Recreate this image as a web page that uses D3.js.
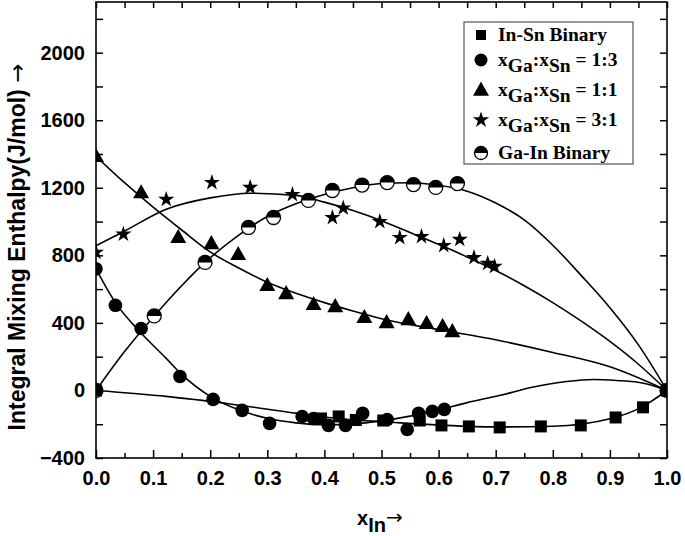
<!DOCTYPE html>
<html>
<head>
<meta charset="utf-8">
<script src="https://cdn.jsdelivr.net/npm/d3@7"></script>
<style>
body { margin: 0; background: #fff; }
svg { display: block; }
.tick text { font-family: "Liberation Sans", Arial, sans-serif; font-weight: bold; font-size: 20px; fill: #000; }
</style>
</head>
<body>
<svg width="685" height="536"></svg>
<script>
// measured points
var inSnX = [0, 0.394, 0.425, 0.455, 0.503, 0.567, 0.605, 0.653, 0.707, 0.779, 0.849, 0.910, 0.958, 1.0];
var inSnY = [0, -166, -154, -175, -178, -178, -207, -213, -219, -213, -207, -160, -100, 0];

var r13X = [0, 0.034, 0.079, 0.147, 0.205, 0.256, 0.304, 0.361, 0.381, 0.407, 0.437, 0.467, 0.51, 0.545, 0.565, 0.589, 0.61, 1.0];
var r13Y = [720, 504, 367, 83, -53, -118, -195, -154, -166, -207, -207, -136, -172, -231, -136, -124, -112, 0];

var r11X = [0, 0.079, 0.144, 0.202, 0.249, 0.30, 0.333, 0.381, 0.419, 0.47, 0.509, 0.547, 0.579, 0.607, 0.624, 1.0];
var r11Y = [1386, 1171, 906, 870, 805, 622, 574, 509, 497, 432, 402, 420, 397, 379, 349, 0];

var r31X = [0, 0.048, 0.123, 0.203, 0.27, 0.344, 0.414, 0.433, 0.497, 0.532, 0.570, 0.609, 0.637, 0.662, 0.686, 0.698, 1.0];
var r31Y = [818, 925, 1131, 1231, 1202, 1160, 1024, 1080, 1000, 905, 911, 858, 894, 787, 752, 734, 0];

var gaInX = [0, 0.102, 0.191, 0.267, 0.311, 0.372, 0.414, 0.466, 0.51, 0.556, 0.595, 0.633, 1.0];
var gaInY = [0, 441, 758, 965, 1024, 1125, 1184, 1216, 1231, 1219, 1202, 1225, 0];

// fitted curves
var fitInSnX = [0, 0.123, 0.235, 0.354, 0.45, 0.5, 0.6, 0.7, 0.8, 0.9, 0.955, 1.0];
var fitInSnY = [0, -35, -80, -136, -175, -185, -205, -216, -212, -168, -100, 0];

var fit13X = [0, 0.034, 0.079, 0.123, 0.15, 0.2, 0.25, 0.3, 0.35, 0.4, 0.45, 0.5, 0.55, 0.6, 0.65, 0.708, 0.766, 0.824, 0.871, 0.912, 0.959, 1.0];
var fit13Y = [720, 520, 340, 190, 95, -35, -115, -165, -192, -203, -198, -180, -152, -115, -72, -29, 20, 53, 65, 59, 43, 0];

var fit11X = [0, 0.05, 0.1, 0.15, 0.2, 0.25, 0.3, 0.35, 0.4, 0.45, 0.5, 0.6, 0.7, 0.8, 0.9, 1.0];
var fit11Y = [1386, 1230, 1085, 950, 820, 725, 640, 575, 520, 470, 425, 360, 300, 225, 140, 0];

var fit31X = [0, 0.048, 0.123, 0.2, 0.27, 0.35, 0.4, 0.45, 0.5, 0.55, 0.6, 0.65, 0.7, 0.75, 0.8, 0.85, 0.9, 0.95, 1.0];
var fit31Y = [857, 940, 1073, 1140, 1168, 1155, 1115, 1065, 1005, 935, 865, 790, 710, 620, 520, 410, 290, 155, 0];

var fitGaInX = [0, 0.05, 0.102, 0.15, 0.191, 0.25, 0.3, 0.35, 0.4, 0.45, 0.5, 0.55, 0.6, 0.65, 0.7, 0.75, 0.8, 0.85, 0.9, 0.95, 1.0];
var fitGaInY = [0, 230, 441, 620, 758, 920, 1030, 1105, 1160, 1200, 1225, 1230, 1215, 1180, 1110, 1010, 860, 680, 490, 270, 0];

var xMajor = [0, 0.1, 0.2, 0.3, 0.4, 0.5, 0.6, 0.7, 0.8, 0.9, 1.0];
var xMinor = [0.05, 0.15, 0.25, 0.35, 0.45, 0.55, 0.65, 0.75, 0.85, 0.95];
var yMajor = [-400, 0, 400, 800, 1200, 1600, 2000];
var yMinor = [-200, 200, 600, 1000, 1400, 1800, 2200];

var svg = d3.select("svg");
var pLeft = 96, pRight = 667, pTop = 2, pBottom = 458;

var x = d3.scaleLinear().domain([0, 1]).range([pLeft, pRight]);
var y = d3.scaleLinear().domain([-400, 2300]).range([pBottom, pTop]);

svg.append("defs").append("clipPath").attr("id", "plot")
    .append("rect")
    .attr("x", pLeft).attr("y", pTop)
    .attr("width", pRight - pLeft).attr("height", pBottom - pTop);

function noDomain(g) { g.select(".domain").remove(); }

// axes, ticks inside
svg.append("g").attr("transform", "translate(0," + pBottom + ")")
    .call(d3.axisBottom(x).tickValues(xMajor).tickSize(-8).tickPadding(13).tickFormat(d3.format(".1f")))
    .call(noDomain);
svg.append("g").attr("transform", "translate(0," + pBottom + ")")
    .call(d3.axisBottom(x).tickValues(xMinor).tickSize(-5).tickFormat(""))
    .call(noDomain);
svg.append("g").attr("transform", "translate(0," + pTop + ")")
    .call(d3.axisTop(x).tickValues(xMajor.concat(xMinor)).tickSize(-6).tickFormat(""))
    .call(noDomain);
svg.append("g").attr("transform", "translate(" + pLeft + ",0)")
    .call(d3.axisLeft(y).tickValues(yMajor).tickSize(-7).tickPadding(11).tickFormat(d3.format("d")))
    .call(noDomain);
svg.append("g").attr("transform", "translate(" + pLeft + ",0)")
    .call(d3.axisLeft(y).tickValues(yMinor).tickSize(-7).tickFormat(""))
    .call(noDomain);
svg.append("g").attr("transform", "translate(" + pRight + ",0)")
    .call(d3.axisRight(y).tickValues(yMajor.concat(yMinor)).tickSize(-7).tickFormat(""))
    .call(noDomain);

svg.selectAll(".tick line").attr("stroke", "#000").attr("stroke-width", 1.5);

// fitted lines
var line = d3.line()
    .x(function(d) { return x(d[0]); })
    .y(function(d) { return y(d[1]); })
    .curve(d3.curveMonotoneX);

var fits = [
    d3.zip(fitInSnX, fitInSnY),
    d3.zip(fit13X, fit13Y),
    d3.zip(fit11X, fit11Y),
    d3.zip(fit31X, fit31Y),
    d3.zip(fitGaInX, fitGaInY)
];

svg.append("g").attr("clip-path", "url(#plot)")
    .selectAll("path")
    .data(fits)
    .enter().append("path")
    .attr("d", line)
    .attr("fill", "none")
    .attr("stroke", "#000")
    .attr("stroke-width", 1.6);

// markers
function square(g, s) {
    g.append("rect").attr("x", -s / 2).attr("y", -s / 2).attr("width", s).attr("height", s).attr("fill", "#000");
}
function dot(g, r) {
    g.append("circle").attr("r", r).attr("fill", "#000");
}
function tri(g, w) {
    var h = w * 0.88;
    g.append("path").attr("d", "M0," + (-h * 0.6) + "L" + (w / 2) + "," + (h * 0.4) + "L" + (-w / 2) + "," + (h * 0.4) + "Z").attr("fill", "#000");
}
function star(g, r) {
    g.append("path").attr("d", d3.symbol().type(d3.symbolStar).size(r * r / 0.8908)()).attr("fill", "#000");
}
function half(g, r) {
    g.append("circle").attr("r", r).attr("fill", "#fff").attr("stroke", "#000").attr("stroke-width", 1.3);
    g.append("path").attr("d", "M" + (-r) + ",0A" + r + "," + r + " 0 0 1 " + r + ",0Z").attr("fill", "#000");
}

var marks = svg.append("g").attr("clip-path", "url(#plot)");

function drawSeries(xs, ys, draw, size) {
    marks.append("g").selectAll("g")
        .data(d3.zip(xs, ys))
        .enter().append("g")
        .attr("transform", function(d) { return "translate(" + x(d[0]) + "," + y(d[1]) + ")"; })
        .each(function() { draw(d3.select(this), size); });
}

drawSeries(gaInX, gaInY, half, 7);
drawSeries(r31X, r31Y, star, 8.5);
drawSeries(r11X, r11Y, tri, 16);
drawSeries(r13X, r13Y, dot, 6.8);
drawSeries(inSnX, inSnY, square, 12);

// frame
svg.append("rect")
    .attr("x", pLeft).attr("y", pTop)
    .attr("width", pRight - pLeft).attr("height", pBottom - pTop)
    .attr("fill", "none").attr("stroke", "#000").attr("stroke-width", 1.6);

// legend
var legend = svg.append("g");
legend.append("rect")
    .attr("x", 464).attr("y", 22).attr("width", 169).attr("height", 142)
    .attr("fill", "#fff").attr("stroke", "#555").attr("stroke-width", 1.2);

var legendRows = [
    {cy: 35, base: 41, draw: square, size: 10, ratio: null, text: "In-Sn Binary"},
    {cy: 60, base: 66, draw: dot, size: 6.5, ratio: "1:3"},
    {cy: 90, base: 96, draw: tri, size: 16, ratio: "1:1"},
    {cy: 120, base: 126, draw: star, size: 8.5, ratio: "3:1"},
    {cy: 153, base: 159, draw: half, size: 6.5, ratio: null, text: "Ga-In Binary"}
];

legendRows.forEach(function(row) {
    var g = legend.append("g").attr("transform", "translate(481," + row.cy + ")");
    row.draw(g, row.size);
    var t = legend.append("text")
        .attr("x", 498).attr("y", row.base)
        .style("font-family", "'Liberation Serif', 'Times New Roman', serif")
        .style("font-weight", "bold")
        .style("font-size", "19.5px");
    if (row.ratio === null) {
        t.text(row.text);
    } else {
        t.append("tspan").text("x");
        t.append("tspan").attr("dy", 6).text("Ga");
        t.append("tspan").attr("dy", -6).text(":x");
        t.append("tspan").attr("dy", 6).text("Sn");
        t.append("tspan").attr("dy", -6).text(" = " + row.ratio);
    }
});

// axis titles
var yt = svg.append("text")
    .attr("transform", "translate(25,247) rotate(-90)")
    .attr("text-anchor", "middle")
    .style("font-family", "'Liberation Sans', Arial, sans-serif")
    .style("font-weight", "bold")
    .style("font-size", "23px");
yt.append("tspan").text("Integral Mixing Enthalpy(J/mol) ");
yt.append("tspan").style("font-family", "'DejaVu Sans', sans-serif").style("font-weight", "normal").text("\u2192");

var xt = svg.append("text")
    .attr("x", 357).attr("y", 525)
    .style("font-family", "'Liberation Sans', Arial, sans-serif")
    .style("font-weight", "bold")
    .style("font-size", "20px");
xt.append("tspan").text("x");
xt.append("tspan").attr("dy", 7).text("In");
xt.append("tspan").attr("dy", -8).style("font-family", "'DejaVu Sans', sans-serif").style("font-weight", "normal").text("\u2192");
</script>
</body>
</html>
